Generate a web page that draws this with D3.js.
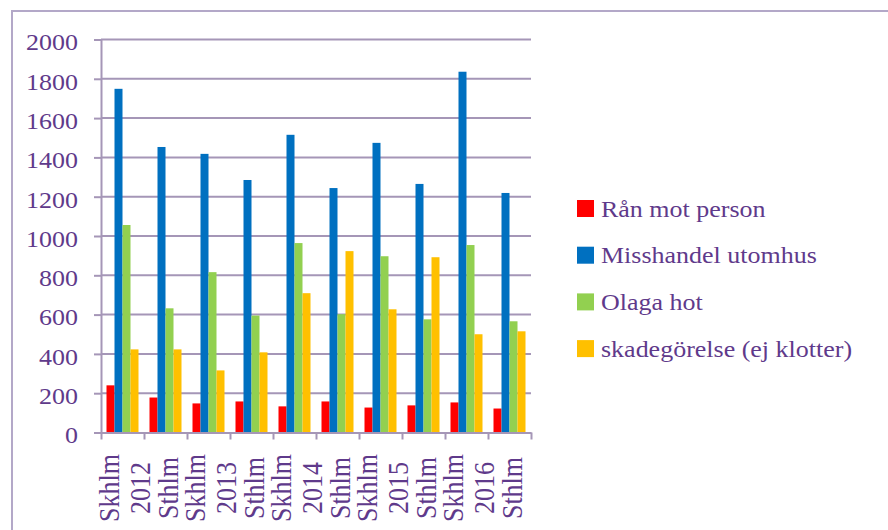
<!DOCTYPE html>
<html lang="en">
	<head>
		<meta charset="utf-8">
		<title>Brott Skhlm / Sthlm 2012-2016</title>
		<script src="https://d3js.org/d3.v7.min.js"></script>
		<style>
			body { margin: 0; background: #fff; }
			text { font-family: "Liberation Serif", "Times New Roman", serif; fill: #5f3a8b; }
		</style>
	</head>
	<body>
		<script>

			// data
			var categories = ["Skhlm 2012", "Sthlm", "Skhlm 2013", "Sthlm", "Skhlm 2014", "Sthlm", "Skhlm 2015", "Sthlm", "Skhlm 2016", "Sthlm"];
			var series = ["Rån mot person", "Misshandel utomhus", "Olaga hot", "skadegörelse (ej klotter)"];
			var ran        = [240, 178, 148, 158, 133, 158, 127, 138, 153, 122];
			var misshandel = [1749, 1453, 1418, 1285, 1515, 1244, 1474, 1265, 1836, 1219];
			var olagaHot   = [1056, 632, 816, 595, 964, 602, 897, 576, 954, 566];
			var skadegor   = [423, 423, 316, 408, 709, 923, 627, 892, 500, 515];
			var yTicks = [0, 200, 400, 600, 800, 1000, 1200, 1400, 1600, 1800, 2000];

			var values = [ran, misshandel, olagaHot, skadegor];
			var colors = ["#ff0000", "#0070c0", "#92d050", "#ffc000"];
			var gridColor = "#a596b7";

			var w = 888, h = 530;
			var margin = {top: 39.5, left: 101, right: 357, bottom: 97.5};
			var xStretch = 1.13;   // text in the picture is a little wider than tall

			var svg = d3.select("body").append("svg")
				.attr("width", w)
				.attr("height", h);

			// outer frame
			svg.append("rect")
				.attr("x", 12).attr("y", 11)
				.attr("width", 1000).attr("height", 1000)
				.attr("fill", "none")
				.attr("stroke", "#b3a8c8")
				.attr("stroke-width", 2);

			var x0 = d3.scaleBand()
				.domain(d3.range(categories.length))
				.range([margin.left, w - margin.right]);

			var groupW = x0.bandwidth() * 32 / 43;
			var x1 = d3.scaleBand()
				.domain(d3.range(series.length))
				.range([(x0.bandwidth() - groupW) / 2, (x0.bandwidth() + groupW) / 2]);

			var y = d3.scaleLinear()
				.domain([0, 2000])
				.range([h - margin.bottom, margin.top]);

			// gridlines
			svg.append("g")
				.selectAll("line")
				.data(yTicks.slice(1))
				.enter().append("line")
				.attr("x1", margin.left).attr("x2", w - margin.right)
				.attr("y1", function(d) { return y(d); })
				.attr("y2", function(d) { return y(d); })
				.attr("stroke", gridColor)
				.attr("stroke-width", 2);

			// bars
			svg.append("g")
				.selectAll("g")
				.data(values)
				.enter().append("g")
				.attr("fill", function(d, s) { return colors[s]; })
				.each(function(vals, s) {
					d3.select(this).selectAll("rect")
						.data(vals)
						.enter().append("rect")
						.attr("x", function(d, i) { return x0(i) + x1(s); })
						.attr("y", function(d) { return y(d); })
						.attr("width", x1.bandwidth())
						.attr("height", function(d) { return y(0) - y(d); });
				});

			// y axis
			var yAxis = d3.axisLeft(y)
				.tickValues(yTicks)
				.tickSizeInner(7)
				.tickSizeOuter(0)
				.tickFormat(d3.format("d"));

			var gy = svg.append("g")
				.attr("transform", "translate(" + margin.left + ",0)")
				.call(yAxis);
			gy.select(".domain").attr("stroke", gridColor).attr("stroke-width", 2);
			gy.selectAll(".tick line").attr("stroke", gridColor).attr("stroke-width", 2);
			gy.selectAll(".tick text")
				.attr("x", 0)
				.attr("dy", "0.45em")
				.attr("font-size", 23)
				.attr("text-anchor", "end")
				.attr("transform", "translate(-23,0) scale(" + xStretch + ",1)")
				.style("font-family", null)
				.attr("fill", null);

			// x axis (boundary ticks)
			var xl = d3.scaleLinear()
				.domain([0, categories.length])
				.range([margin.left, w - margin.right]);
			var xAxis = d3.axisBottom(xl)
				.tickValues(d3.range(categories.length + 1))
				.tickSizeInner(7)
				.tickSizeOuter(0)
				.tickFormat("");
			var gx = svg.append("g")
				.attr("transform", "translate(0," + y(0) + ")")
				.call(xAxis);
			gx.select(".domain").attr("stroke", gridColor).attr("stroke-width", 2);
			gx.selectAll(".tick line").attr("stroke", gridColor).attr("stroke-width", 2);

			// category labels, rotated, wrapped on spaces
			var lineGap = 31.5;
			svg.append("g")
				.selectAll("g")
				.data(categories)
				.enter().append("g")
				.each(function(cat, i) {
					var lines = cat.split(" ");
					var cx = x0(i) + x0.bandwidth() / 2;
					d3.select(this).selectAll("text")
						.data(lines)
						.enter().append("text")
						.attr("text-anchor", "middle")
						.attr("font-size", 26)
						.attr("transform", function(d, k) {
							var bx = cx + 12 + (k - (lines.length - 1) / 2) * lineGap;
							return "translate(" + bx + ",488) scale(" + xStretch + ",1) rotate(-90)";
						})
						.text(function(d) { return d; });
				});

			// legend
			var legend = svg.append("g")
				.selectAll("g")
				.data(series)
				.enter().append("g")
				.attr("transform", function(d, i) { return "translate(577," + (200 + i * 46.7) + ")"; });
			legend.append("rect")
				.attr("width", 17).attr("height", 17)
				.attr("fill", function(d, i) { return colors[i]; });
			legend.append("text")
				.attr("font-size", 23)
				.attr("transform", "translate(24,16.5) scale(" + xStretch + ",1)")
				.text(function(d) { return d; });

		</script>
	</body>
</html>
